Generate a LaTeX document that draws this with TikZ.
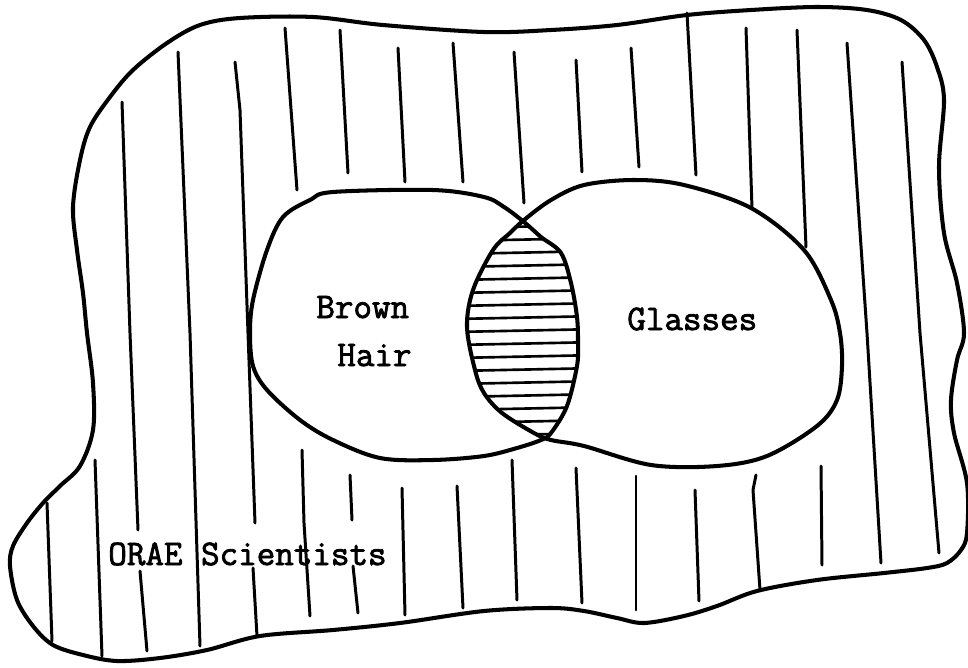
\documentclass[tikz,border=0pt]{standalone}
\usepackage{fontspec}
\setmonofont[FakeBold=2.2]{Latin Modern Mono}
\begin{document}
\begin{tikzpicture}[x=0.02cm,y=-0.02cm,
  boundary/.style={line width=2.3pt, line join=round},
  hatchv/.style={line width=1.7pt, line cap=round, line join=round},
  hatchh/.style={line width=1.5pt, line cap=round},
  lbl/.style={font=\ttfamily\fontsize{20.5}{22}\selectfont, inner sep=0pt, anchor=base west}]
\useasboundingbox (0,0) rectangle (968,667);
\def\outerpath{plot[smooth cycle, tension=0.55] coordinates {
 (240,18) (313,17) (383,25) (484,32) (551,30) (617,25) (687,15) (751,10) (817,7) (867,10) (901,20) (924,40) (937,67) (944,100) (939,167) (944,233) (957,283) (964,333) (957,360) (951,400) (954,433) (967,483) (967,533) (961,550) (947,563) (927,568) (884,573) (817,580) (757,591) (717,606) (684,616) (644,623) (617,618) (584,611) (551,608) (484,611) (400,623) (333,630) (260,636) (207,650) (160,658) (117,661) (83,655) (53,645) (33,626) (17,600) (10,566) (13,546) (27,523) (43,503) (60,486) (80,466) (93,430) (93,383) (87,333) (83,293) (77,250) (73,207) (80,160) (90,127) (110,97) (133,70) (167,43) (200,25)}}
\def\brownpath{plot[smooth cycle, tension=0.55] coordinates {
 (333,192) (433,190) (484,197) (504,207) (524,222) (541,237) (561,253) (571,283) (577,317) (578,343) (577,366) (567,406) (551,433) (541,440) (517,448) (484,456) (433,460) (380,458) (333,440) (300,420) (267,390) (253,366) (250,333) (253,300) (267,250) (283,217) (310,200)}}
\def\glasspath{plot[smooth cycle, tension=0.55] coordinates {
 (524,220) (551,200) (584,185) (634,180) (684,185) (751,208) (804,250) (831,300) (840,333) (842,366) (837,400) (817,426) (767,456) (717,466) (651,465) (584,446) (551,440) (534,433) (502,413) (484,393) (475,370) (467,327) (473,290) (493,250) (510,233)}}
% universe outline
\draw[boundary] \outerpath;
% vertical hatching outside the sets
\draw[hatchv] (122,102) -- (130,333) -- (138,530);
\draw[hatchv] (140,571) -- (147,651);
\draw[hatchv] (178,52) -- (190,333) -- (200,646);
\draw[hatchv] (235,62) -- (240,110) -- (248,333) -- (255,523);
\draw[hatchv] (253,568) -- (257,636);
\draw[hatchv] (285,28) -- (297,190);
\draw[hatchv] (340,30) -- (348,173);
\draw[hatchv] (398,48) -- (405,182);
\draw[hatchv] (453,43) -- (463,182);
\draw[hatchv] (514,52) -- (524,203);
\draw[hatchv] (576,60) -- (582,172);
\draw[hatchv] (631,48) -- (639,167);
\draw[hatchv] (687,13) -- (696,175);
\draw[hatchv] (746,28) -- (752,208);
\draw[hatchv] (797,30) -- (806,247);
\draw[hatchv] (847,43) -- (867,333) -- (881,563);
\draw[hatchv] (902,62) -- (920,333) -- (939,553);
\draw[hatchv] (47,503) -- (52,641);
\draw[hatchv] (95,460) -- (102,656);
\draw[hatchv] (302,450) -- (304,523) -- (310,616);
\draw[hatchv] (350,475) -- (352,520);
\draw[hatchv] (353,566) -- (358,613);
\draw[hatchv] (402,488) -- (405,615);
\draw[hatchv] (457,486) -- (463,608);
\draw[hatchv] (512,460) -- (517,600);
\draw[hatchv] (576,468) -- (582,603);
\draw[hatchv] (636,476) -- (636,610);
\draw[hatchv] (695,490) -- (699,601);
\draw[hatchv] (756,475) -- (753,490) -- (760,590);
\draw[hatchv] (821,466) -- (822,565);
% horizontal hatching in the intersection
\begin{scope}
  \clip \brownpath;
  \clip \glasspath;
  \foreach \y in {227,240,...,435} {
    \draw[hatchh] (455,\y+1) -- (600,\y-2);
  }
\end{scope}
% the two sets
\draw[boundary] \brownpath;
\draw[boundary] \glasspath;
% labels
\node[lbl] (brown) at (316,318) {Brown};
\node[lbl] (hair) at (337,366) {Hair};
\node[lbl] (glasses) at (627,330) {Glasses};
\node[lbl] (orae) at (108,565) {ORAE Scientists};
\end{tikzpicture}
\end{document}
